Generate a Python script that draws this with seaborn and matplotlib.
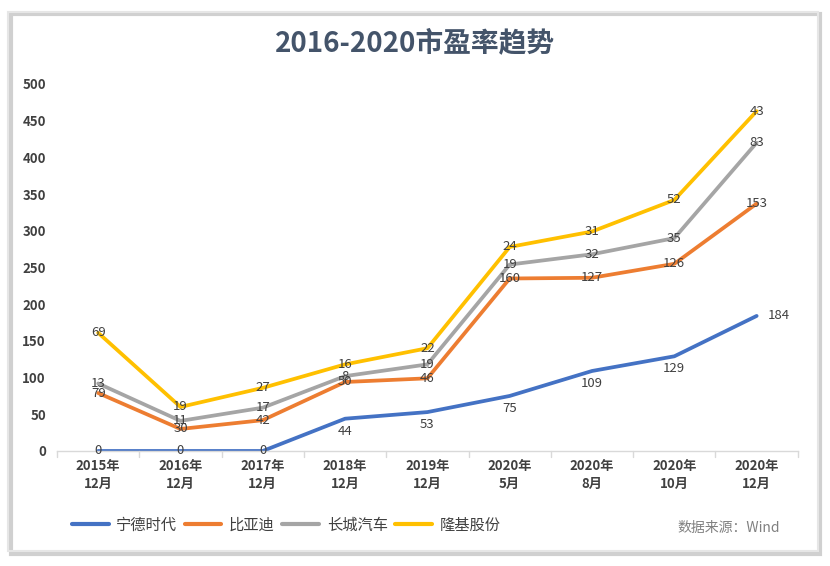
import pandas as pd
import numpy as np
import matplotlib
matplotlib.use("Agg")
import matplotlib.pyplot as plt
import seaborn as sns
from matplotlib.patches import Rectangle

sns.set_theme(style="white")
plt.rcParams['font.family'] = ['Noto Sans CJK SC', 'DejaVu Sans']

# 数据 (每家公司市盈率，图中为堆积折线)
periods = ['2015年\n12月', '2016年\n12月', '2017年\n12月', '2018年\n12月', '2019年\n12月',
           '2020年\n5月', '2020年\n8月', '2020年\n10月', '2020年\n12月']
companies = ['宁德时代', '比亚迪', '长城汽车', '隆基股份']
catl = [0, 0, 0, 44, 53, 75, 109, 129, 184]
byd = [79, 30, 42, 50, 46, 160, 127, 126, 153]
gwm = [13, 11, 17, 8, 19, 19, 32, 35, 83]
longi = [69, 19, 27, 16, 22, 24, 31, 52, 43]
colors = ['#4472C4', '#ED7D31', '#A5A5A5', '#FFC000']

values = np.array([catl, byd, gwm, longi])
stacked = values.cumsum(axis=0)

rows = []
for c, comp in enumerate(companies):
    for i in range(len(periods)):
        rows.append({'x': i, 'company': comp, 'pe': values[c, i], 'cum': stacked[c, i]})
df = pd.DataFrame(rows)

fig = plt.figure(figsize=(8.3, 5.66), dpi=100)
ax = fig.add_axes([0.0687, 0.2032, 0.8925, 0.6484])

sns.lineplot(data=df, x='x', y='cum', hue='company', hue_order=companies,
             palette=colors, linewidth=2.7, ax=ax, legend=False)

lab_color = '#404040'
for c, comp in enumerate(companies):
    for i in range(len(periods)):
        v = values[c, i]
        y = stacked[c, i]
        if c == 0 and v > 0:
            if i == len(periods) - 1:
                ax.annotate(str(v), (i, y), xytext=(8, 0), textcoords='offset points',
                            ha='left', va='center', fontsize=9.5, color=lab_color)
            else:
                ax.annotate(str(v), (i, y), xytext=(0, -9), textcoords='offset points',
                            ha='center', va='center', fontsize=9.5, color=lab_color)
        else:
            ax.text(i, y, str(v), ha='center', va='center', fontsize=9.5, color=lab_color)

ax.set_xlim(-0.5, len(periods) - 0.5)
ax.set_ylim(0, 500)
ax.set_yticks(range(0, 501, 50))
ax.set_xticks(range(len(periods)))
ax.set_xticklabels(periods, fontsize=9.5, fontweight='bold', color=lab_color, linespacing=1.3)
ax.tick_params(axis='y', labelsize=9.5, labelcolor=lab_color, length=0, pad=8)
ax.tick_params(axis='x', length=0, pad=6)
for lbl in ax.get_yticklabels():
    lbl.set_fontweight('bold')
ax.set_xlabel('')
ax.set_ylabel('')
for s in ['top', 'right', 'left']:
    ax.spines[s].set_visible(False)
ax.spines['bottom'].set_color('#D9D9D9')
ax.spines['bottom'].set_linewidth(1)
# 类目之间的刻度线
for b in np.arange(-0.5, len(periods), 1):
    ax.plot([b, b], [0, -8], color='#D9D9D9', lw=1, clip_on=False)

fig.text(0.5, 0.924, '2016-2020市盈率趋势', ha='center', va='center',
         fontsize=20, fontweight='bold', color='#44546A')

handles = [plt.Line2D([0], [0], color=col, lw=3) for col in colors]
fig.legend(handles, companies, loc='center left', bbox_to_anchor=(0.07, 0.072), ncol=4,
           frameon=False, fontsize=11, handlelength=2.4, handletextpad=0.5,
           columnspacing=0.5, labelcolor='#404040')

fig.text(0.94, 0.067, '数据来源：Wind', ha='right', va='center', fontsize=10, color='#808080')

# 外框
fig.patches.append(Rectangle((0.013, 0.022), 0.975, 0.953, transform=fig.transFigure,
                             fill=False, edgecolor='#D0D0D0', lw=3, zorder=-1))
fig.patches.append(Rectangle((0.01, 0.026), 0.975, 0.953, transform=fig.transFigure,
                             fill=False, edgecolor='#E6E6E6', lw=1.5, zorder=-1))

fig.savefig('out.png', dpi=100)
